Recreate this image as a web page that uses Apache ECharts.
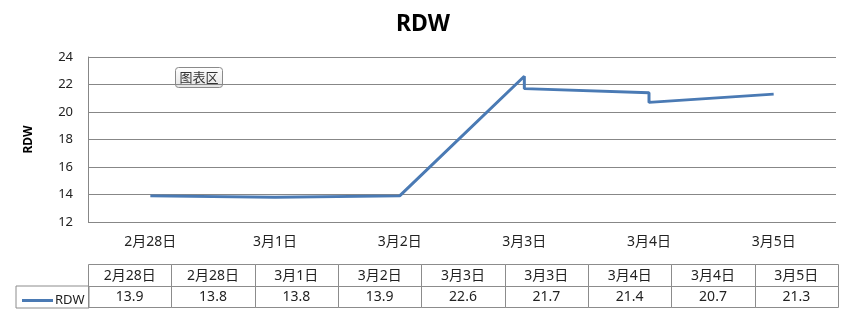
<!DOCTYPE html>
<html>
<head>
<meta charset="utf-8">
<script src="https://cdn.jsdelivr.net/npm/echarts@6/dist/echarts.min.js"></script>
<style>html,body{margin:0;padding:0;background:#fff;}#c{width:846px;height:320px;}</style>
</head>
<body>
<div id="c"></div>
<script>
const dates = ['2月28日','2月28日','3月1日','3月2日','3月3日','3月3日','3月4日','3月4日','3月5日'];
const values = [13.9, 13.8, 13.8, 13.9, 22.6, 21.7, 21.4, 20.7, 21.3];
const axisDays = ['2月28日','3月1日','3月2日','3月3日','3月4日','3月5日'];
const yMin = 12, yMax = 24, yStep = 2;
const seriesName = 'RDW';

const FONT = '"Noto Sans", "Noto Sans CJK SC", sans-serif';
const LINE = '#4a7ab4';
const GRIDC = '#878787';
const BORDER = '#8c8c8c';

const lineData = dates.map((d, i) => [axisDays.indexOf(d) + 0.5, values[i]]);
const cells = [];
dates.forEach((d, i) => cells.push({ value: [i, 0], text: d }));
values.forEach((v, i) => cells.push({ value: [i, 1], text: v.toFixed(1) }));

const chart = echarts.init(document.getElementById('c'));
chart.setOption({
  backgroundColor: '#fff',
  animation: false,
  textStyle: { fontFamily: FONT },
  title: {
    text: 'RDW', left: 'center', top: 8,
    textStyle: { fontSize: 23, fontWeight: 'bold', color: '#000', fontFamily: FONT }
  },
  legend: {
    data: [{ name: seriesName, icon: 'rect' }], left: 17, top: 289, itemWidth: 31, itemHeight: 3, itemGap: 4,
    itemStyle: { color: LINE },
    textStyle: { fontSize: 13, color: '#222', fontFamily: FONT, padding: [0, 0, 0, -3] },
    selectedMode: false
  },
  grid: [
    { left: 88, right: 10, top: 57, bottom: 98 },
    { left: 88, right: 8, top: 264, height: 43 }
  ],
  xAxis: [
    { type: 'value', gridIndex: 0, min: 0, max: axisDays.length, show: false },
    { type: 'category', gridIndex: 0, data: axisDays, position: 'bottom',
      axisLine: { show: false }, axisTick: { show: false },
      axisLabel: { fontSize: 14, color: '#222', margin: 13, fontFamily: FONT } },
    { type: 'category', gridIndex: 1, data: dates.map((d, i) => i), show: false }
  ],
  yAxis: [
    { type: 'value', gridIndex: 0, min: yMin, max: yMax, interval: yStep,
      name: 'RDW', nameLocation: 'middle', nameGap: 53,
      nameTextStyle: { fontSize: 12, fontWeight: 'bold', color: '#000', fontFamily: FONT },
      axisLine: { show: true, lineStyle: { color: GRIDC } },
      axisTick: { show: false },
      axisLabel: { fontSize: 13, color: '#222', margin: 15, fontFamily: FONT },
      splitLine: { show: true, lineStyle: { color: GRIDC, width: 1 } } },
    { type: 'category', gridIndex: 1, data: ['h', 'v'], inverse: true, show: false }
  ],
  series: [
    { name: seriesName, type: 'line', xAxisIndex: 0, yAxisIndex: 0, data: lineData,
      symbol: 'none', lineStyle: { color: LINE, width: 3 }, itemStyle: { color: LINE } },
    { type: 'custom', xAxisIndex: 2, yAxisIndex: 1, data: cells, silent: true,
      renderItem: function (params, api) {
        const c = api.coord([api.value(0), api.value(1)]);
        const s = api.size([1, 1]);
        const x0 = Math.round(c[0] - s[0] / 2) + 0.5, y0 = Math.round(c[1] - s[1] / 2) + 0.5;
        const x1 = Math.round(c[0] + s[0] / 2) + 0.5, y1 = Math.round(c[1] + s[1] / 2) + 0.5;
        return { type: 'group', children: [
          { type: 'rect', shape: { x: x0, y: y0, width: x1 - x0, height: y1 - y0 },
            style: { fill: 'transparent', stroke: BORDER, lineWidth: 1 } },
          { type: 'text', style: { text: cells[params.dataIndex].text, x: c[0], y: c[1] + 1,
            align: 'center', verticalAlign: 'middle', fontSize: 14, fill: '#222', fontFamily: FONT } }
        ] };
      } }
  ],
  graphic: [
    { type: 'rect', left: 15.5, top: 285.5, shape: { width: 73, height: 22 },
      style: { fill: 'transparent', stroke: BORDER, lineWidth: 1 }, silent: true },
    { type: 'group', left: 175, top: 67, children: [
      { type: 'rect', shape: { x: 0.5, y: 0.5, width: 47, height: 20, r: 3 },
        style: { fill: new echarts.graphic.LinearGradient(0, 0, 0, 1, [
          { offset: 0, color: '#ffffff' }, { offset: 1, color: '#e4e4e4' }]),
          stroke: '#8a8a8a', lineWidth: 1 } },
      { type: 'text', style: { text: '图表区', x: 24, y: 11, align: 'center', verticalAlign: 'middle',
        fontSize: 13, fill: '#333', fontFamily: FONT } }
    ] }
  ]
});
</script>
</body>
</html>
